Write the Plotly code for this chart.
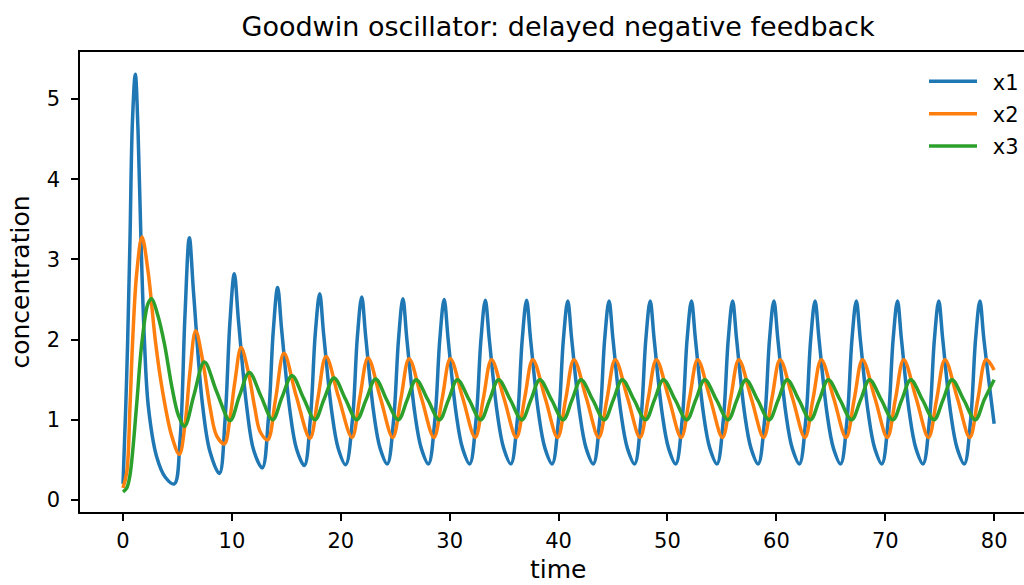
import plotly.graph_objects as go

# ---- data ----
blue_t = [0.00, 0.25, 0.43, 0.64, 0.86, 1.13, 1.38, 1.65, 1.96, 2.33, 3.09, 3.90, 4.71,
          5.24, 5.69, 6.09, 6.49, 7.29, 7.99, 8.85,
          9.37, 9.82, 10.22, 10.60, 11.37, 12.00, 12.79,
          13.35, 13.80, 14.20, 14.57, 15.32, 15.93, 16.65,
          17.21, 17.66, 18.06, 18.43, 19.17, 19.77, 20.45,
          21.07, 21.52, 21.92, 22.29, 23.02, 23.62, 24.27,
          24.85, 25.30, 25.70, 26.07, 26.80, 27.40, 28.05,
          28.64, 29.09, 29.49, 29.86, 30.59, 31.19, 31.84,
          32.42, 32.87, 33.27, 33.64, 34.37, 34.97, 35.62,
          36.21, 36.66, 37.06, 37.43, 38.16, 38.76, 39.41,
          39.99, 40.44, 40.84, 41.21, 41.94, 42.54, 43.19,
          43.78, 44.23, 44.63, 45.00, 45.73, 46.33, 46.98,
          47.56, 48.01, 48.41, 48.78, 49.51, 50.11, 50.76,
          51.35, 51.80, 52.20, 52.57, 53.30, 53.90, 54.55,
          55.13, 55.58, 55.98, 56.35, 57.08, 57.68, 58.33,
          58.92, 59.37, 59.77, 60.14, 60.87, 61.47, 62.12,
          62.70, 63.15, 63.55, 63.92, 64.65, 65.25, 65.90,
          66.49, 66.94, 67.34, 67.71, 68.44, 69.04, 69.69,
          70.27, 70.72, 71.12, 71.49, 72.22, 72.82, 73.47,
          74.06, 74.51, 74.91, 75.28, 76.01, 76.61, 77.26,
          77.84, 78.29, 78.69, 79.06, 80.00]
blue_v = [0.20, 1.16, 2.00, 3.24, 4.70, 5.31, 4.60, 3.24, 2.00, 1.16, 0.54, 0.28, 0.20,
          0.75, 2.30, 3.27, 2.56, 1.20, 0.60, 0.33,
          1.00, 2.22, 2.82, 2.24, 1.15, 0.62, 0.40,
          1.01, 2.11, 2.65, 2.12, 1.12, 0.64, 0.43,
          1.02, 2.08, 2.57, 2.06, 1.10, 0.64, 0.44,
          1.00, 2.03, 2.53, 2.03, 1.09, 0.64, 0.45,
          1.00, 2.00, 2.51, 2.00, 1.08, 0.64, 0.45,
          1.00, 2.00, 2.50, 2.00, 1.08, 0.64, 0.45,
          1.00, 2.00, 2.49, 2.00, 1.08, 0.64, 0.45,
          1.00, 2.00, 2.49, 2.00, 1.08, 0.64, 0.45,
          1.00, 2.00, 2.48, 2.00, 1.08, 0.64, 0.45,
          1.00, 2.00, 2.48, 2.00, 1.08, 0.64, 0.45,
          1.00, 2.00, 2.48, 2.00, 1.08, 0.64, 0.45,
          1.00, 2.00, 2.48, 2.00, 1.08, 0.64, 0.45,
          1.00, 2.00, 2.48, 2.00, 1.08, 0.64, 0.45,
          1.00, 2.00, 2.48, 2.00, 1.08, 0.64, 0.45,
          1.00, 2.00, 2.48, 2.00, 1.08, 0.64, 0.45,
          1.00, 2.00, 2.48, 2.00, 1.08, 0.64, 0.45,
          1.00, 2.00, 2.48, 2.00, 1.08, 0.64, 0.45,
          1.00, 2.00, 2.48, 2.00, 1.08, 0.64, 0.45,
          1.00, 2.00, 2.48, 2.00, 0.95]

orange_t = [0.00, 0.35, 0.64, 0.89, 1.26, 1.74, 2.30, 3.00, 3.64, 4.47, 5.17,
            5.70, 6.15, 6.67, 7.30, 8.00, 8.60, 9.31,
            9.80, 10.30, 10.84, 11.50, 12.10, 12.60, 13.28,
            14.00, 14.78, 15.90, 17.17,
            17.90, 18.64, 19.80, 21.03,
            21.74, 22.50, 23.64, 24.77,
            25.52, 26.27, 27.42, 28.55,
            29.31, 30.06, 31.21, 32.34,
            33.09, 33.84, 34.99, 36.12,
            36.88, 37.63, 38.78, 39.91,
            40.66, 41.41, 42.56, 43.69,
            44.45, 45.20, 46.35, 47.48,
            48.23, 48.98, 50.13, 51.26,
            52.02, 52.77, 53.92, 55.05,
            55.80, 56.55, 57.70, 58.83,
            59.59, 60.34, 61.49, 62.62,
            63.37, 64.12, 65.27, 66.40,
            67.16, 67.91, 69.06, 70.19,
            70.94, 71.69, 72.84, 73.97,
            74.73, 75.48, 76.63, 77.76,
            78.51, 79.26, 80.00]
orange_v = [0.15, 0.35, 1.16, 2.00, 2.83, 3.28, 2.85, 1.95, 1.35, 0.80, 0.57,
            0.95, 1.60, 2.11, 1.75, 1.15, 0.80, 0.70,
            1.00, 1.50, 1.90, 1.60, 1.15, 0.85, 0.75,
            1.25, 1.83, 1.30, 0.77,
            1.27, 1.79, 1.28, 0.78,
            1.27, 1.77, 1.27, 0.78,
            1.265, 1.76, 1.265, 0.78,
            1.265, 1.76, 1.265, 0.78,
            1.265, 1.75, 1.265, 0.78,
            1.265, 1.75, 1.265, 0.78,
            1.265, 1.75, 1.265, 0.78,
            1.265, 1.75, 1.265, 0.78,
            1.265, 1.75, 1.265, 0.78,
            1.265, 1.75, 1.265, 0.78,
            1.265, 1.75, 1.265, 0.78,
            1.265, 1.75, 1.265, 0.78,
            1.265, 1.75, 1.265, 0.78,
            1.265, 1.75, 1.265, 0.78,
            1.265, 1.75, 1.265, 0.78,
            1.265, 1.75, 1.265, 0.78,
            1.265, 1.75, 1.62]

green_t = [0.00, 0.35, 0.64, 0.89, 1.26, 1.74, 2.30, 2.63, 3.20, 3.80, 4.50, 5.10, 5.66,
           6.50, 7.47, 8.60, 9.83,
           10.70, 11.60, 12.65, 13.74,
           14.60, 15.52, 16.58, 17.63,
           18.47, 19.38, 20.42, 21.46,
           22.32, 23.20, 24.21, 25.28,
           26.10, 26.92, 27.99, 29.06,
           29.89, 30.71, 31.78, 32.85,
           33.67, 34.49, 35.56, 36.63,
           37.46, 38.28, 39.35, 40.42,
           41.24, 42.06, 43.13, 44.20,
           45.03, 45.85, 46.92, 47.99,
           48.81, 49.63, 50.70, 51.77,
           52.60, 53.42, 54.49, 55.56,
           56.38, 57.20, 58.27, 59.34,
           60.17, 60.99, 62.06, 63.13,
           63.95, 64.77, 65.84, 66.91,
           67.74, 68.56, 69.63, 70.70,
           71.52, 72.34, 73.41, 74.48,
           75.31, 76.13, 77.20, 78.27,
           79.09, 80.00]
green_v = [0.10, 0.15, 0.31, 0.61, 1.20, 1.97, 2.45, 2.51, 2.30, 1.95, 1.40, 1.05, 0.92,
           1.30, 1.72, 1.35, 0.99,
           1.30, 1.59, 1.30, 1.00,
           1.28, 1.55, 1.27, 1.00,
           1.26, 1.52, 1.26, 1.00,
           1.25, 1.51, 1.25, 1.00,
           1.25, 1.50, 1.25, 1.00,
           1.25, 1.50, 1.25, 1.00,
           1.25, 1.50, 1.25, 1.00,
           1.25, 1.50, 1.25, 1.00,
           1.25, 1.50, 1.25, 1.00,
           1.25, 1.50, 1.25, 1.00,
           1.25, 1.50, 1.25, 1.00,
           1.25, 1.50, 1.25, 1.00,
           1.25, 1.50, 1.25, 1.00,
           1.25, 1.50, 1.25, 1.00,
           1.25, 1.50, 1.25, 1.00,
           1.25, 1.50, 1.25, 1.00,
           1.25, 1.50, 1.25, 1.00,
           1.25, 1.50, 1.25, 1.00,
           1.25, 1.50]

series_names = ["x1", "x2", "x3"]
series_colors = ["#1f77b4", "#ff7f0e", "#2ca02c"]
x_ticks = [0, 10, 20, 30, 40, 50, 60, 70, 80]
y_ticks = [0, 1, 2, 3, 4, 5]

FONT = "DejaVu Sans"

fig = go.Figure()
for name, color, t, v in zip(series_names, series_colors,
                             [blue_t, orange_t, green_t],
                             [blue_v, orange_v, green_v]):
    fig.add_trace(go.Scatter(x=t, y=v, mode="lines", name="\u00a0\u2009" + name,
                             legendgroup=name,
                             line=dict(color=color, width=3.5, shape="spline", smoothing=1.0)))

axis_common = dict(showline=True, linecolor="black", linewidth=1.5, showgrid=False,
                   zeroline=False, ticks="outside", ticklen=7, tickwidth=1.5,
                   tickcolor="black", tickfont=dict(family=FONT, size=21, color="black"))

fig.update_layout(
    width=1024, height=585,
    margin=dict(l=80, r=0, t=52, b=73),
    paper_bgcolor="white", plot_bgcolor="white",
    title=dict(text="Goodwin oscillator: delayed negative feedback",
               font=dict(family=FONT, size=27, color="black"),
               x=0.5064, xref="paper", xanchor="center",
               y=1 - 27 / 585, yref="container", yanchor="middle"),
    xaxis=dict(range=[-3.95, 82.74], tickvals=x_ticks, mirror=True,
               ticklabelstandoff=2,
               **axis_common),
    yaxis=dict(range=[-0.15, 5.586], tickvals=y_ticks, ticklabelstandoff=7,
               title=dict(text="concentration", font=dict(family=FONT, size=25, color="black"), standoff=10),
               **axis_common),
    legend=dict(x=0.8941, y=0.98, xanchor="left", yanchor="top",
                bgcolor="rgba(0,0,0,0)", borderwidth=0,
                font=dict(family=FONT, size=21, color="black"),
                itemwidth=48, traceorder="grouped", tracegroupgap=2),
    showlegend=True,
    annotations=[dict(text="time", xref="paper", yref="paper", x=0.5064, y=-0.124,
                      xanchor="center", yanchor="middle", showarrow=False,
                      font=dict(family=FONT, size=25, color="black"))],
)

fig.write_html("out.html")
